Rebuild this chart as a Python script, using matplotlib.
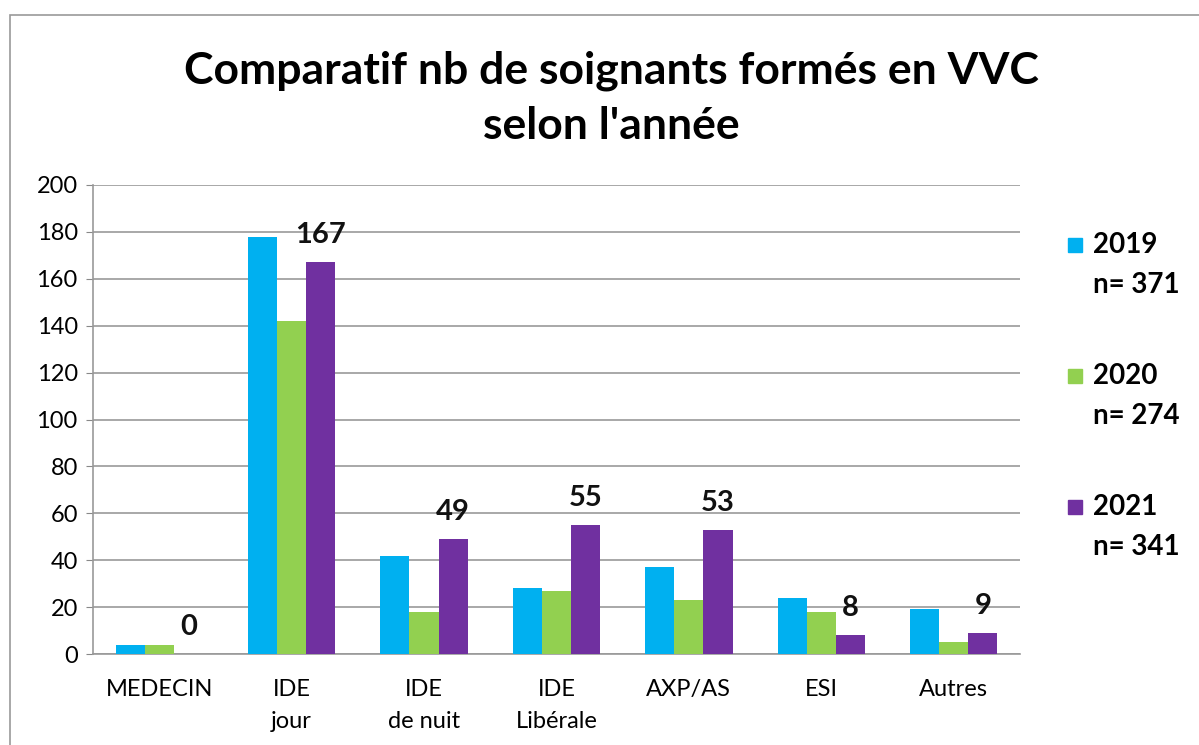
import numpy as np
import matplotlib.pyplot as plt
from matplotlib.patches import Rectangle

plt.rcParams['font.family'] = ['Lato', 'DejaVu Sans']

categories = ['MEDECIN', 'IDE\njour', 'IDE\nde nuit', 'IDE\nLibérale', 'AXP/AS', 'ESI', 'Autres']
years = ['2019', '2020', '2021']
totals = ['n= 371', 'n= 274', 'n= 341']
v2019 = [4, 178, 42, 28, 37, 24, 19]
v2020 = [4, 142, 18, 27, 23, 18, 5]
v2021 = [0, 167, 49, 55, 53, 8, 9]
colors = ['#00B0F0', '#92D050', '#7030A0']

fig = plt.figure(figsize=(11.99, 7.45), dpi=100)
ax = fig.add_axes([0.0776, 0.1221, 0.773, 0.6296])

x = np.arange(len(categories))
w = 0.22
for i, (vals, c) in enumerate(zip([v2019, v2020, v2021], colors)):
    bars = ax.bar(x + (i - 1) * w, vals, w, color=c, zorder=3)
    if i == 2:
        for b, v in zip(bars, vals):
            ax.text(b.get_x() + b.get_width() / 2, v + 6, str(v), ha='center', va='bottom',
                    fontsize=21, fontweight='bold', color='#111111')

ax.set_xlim(-0.5, len(categories) - 0.5)
ax.set_ylim(0, 200)
ax.set_yticks(range(0, 201, 20))
ax.set_xticks(x)
ax.set_xticklabels(categories, fontsize=17, linespacing=1.65)
ax.tick_params(axis='y', labelsize=17, length=5, color='#888888', pad=6)
ax.tick_params(axis='x', length=0, pad=18)
ax.grid(axis='y', color='#999999', linewidth=1.2, zorder=0)
for s in ['top', 'right']:
    ax.spines[s].set_visible(False)
for s in ['left', 'bottom']:
    ax.spines[s].set_color('#999999')
    ax.spines[s].set_linewidth(1.2)

fig.text(0.51, 0.868, "Comparatif nb de soignants formés en VVC\nselon l'année", ha='center', va='center',
         fontsize=32, fontweight='bold', linespacing=1.45)

# legend drawn by hand: square aligned with year, count below
for i, (yr, tot, c) in enumerate(zip(years, totals, colors)):
    ytop = 1 - (245 + 131 * i) / 745
    fig.patches.append(Rectangle((0.8907, ytop - 0.0095), 0.0117, 0.019, transform=fig.transFigure,
                                 color=c))
    fig.text(0.912, ytop, yr, ha='left', va='center', fontsize=20, fontweight='bold')
    fig.text(0.912, ytop - 40 / 745, tot, ha='left', va='center', fontsize=20, fontweight='bold')

fig.patches.append(Rectangle((0.008, -0.01), 1.0, 0.99, transform=fig.transFigure, fill=False,
                             edgecolor='#999999', linewidth=1.2))

fig.savefig('out.png', dpi=100)
